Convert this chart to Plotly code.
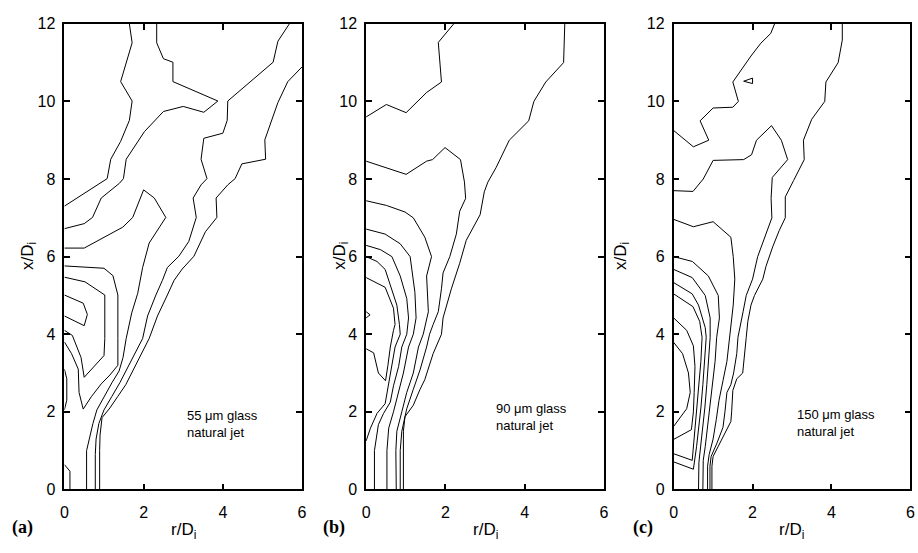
import plotly.graph_objects as go

# ---------------- data: contour polylines, (r/Di, x/Di) pairs ----------------
# panel (a) 55 um glass
a1 = [(0,7.30),(1.08,8.01),(1.17,8.51),(1.42,8.97),(1.64,9.51),(1.71,10.01),(1.42,10.51),(1.56,11.01),(1.71,11.51),(1.64,12.0)]
a2 = [(0,6.72),(0.5,6.85),(0.71,7.01),(0.93,7.51),(1.39,7.89),(1.49,8.01),(1.56,8.51),(2.02,9.22),(2.5,9.74),(3.0,9.87),(3.52,9.72),(3.875,10.01),(2.74,10.51),(2.74,11.01),(2.5,11.1),(2.33,11.51),(2.33,12.0)]
a3 = [(5.68,12.0),(5.39,11.55),(5.27,11.01),(4.98,10.76),(4.46,10.30),(4.125,10.01),(4.11,9.51),(4.0,9.18),(3.52,9.05),(3.45,8.51),(3.6,8.01),(3.45,7.85),(3.25,7.51),(3.33,7.01),(3.14,6.39),(2.89,6.01),(2.6,5.72),(2.475,5.39),(2.31,5.01),(2.1,4.47),(1.975,3.89),(1.75,3.45),(1.58,3.1),(1.4,2.75),(1.2,2.4),(1.0,2.05),(0.87,1.7),(0.8,1.3),(0.78,0.9),(0.78,0)]
a4 = [(0,6.22),(0.5,6.22),(1.475,6.76),(1.725,7.01),(2.0,7.72),(2.27,7.51),(2.56,7.01),(2.27,6.55),(2.14,6.35),(1.975,5.72),(1.85,5.05),(1.7,4.55),(1.56,3.89),(1.48,3.4),(1.38,3.05),(1.2,2.75),(1.0,2.4),(0.82,2.05),(0.72,1.7),(0.62,1.3),(0.56,1.0),(0.56,0)]
a5 = [(0,5.47),(0.52,5.35),(1.02,5.01),(1.02,3.89),(1.0,3.45),(0.5,2.89),(0.42,3.4),(0.2,3.97),(0,4.1)]
a6 = [(0,5.01),(0.475,4.8),(0.58,4.51),(0.5,4.22),(0,4.47)]
a7 = [(6.0,10.89),(5.64,10.51),(5.39,9.97),(5.06,9.01),(5.08,8.51),(4.48,8.39),(4.31,8.01),(4.125,7.85),(3.83,7.51),(3.85,7.01),(3.56,6.64),(3.27,6.01),(2.975,5.68),(2.77,5.39),(2.6,5.01),(2.35,4.47),(2.14,3.89),(1.95,3.5),(1.75,3.1),(1.55,2.7),(1.35,2.4),(1.15,2.1),(0.95,1.85),(0.9,1.4),(0.89,1.0),(0.89,0)]
a8 = [(0,5.76),(1.0,5.7),(1.225,5.51),(1.35,5.01),(1.35,3.89),(1.35,3.2),(1.15,2.95),(0.93,2.72),(0.68,2.39),(0.475,2.07),(0.37,2.5),(0.35,3.1),(0.18,3.5),(0,3.8)]
a9 = [(0,0.64),(0.14,0.47),(0.14,0)]
a10 = [(0,3.1),(0.06,2.85),(0.06,2.3),(0,2.05)]

# panel (b) 90 um glass
b1 = [(0,9.6),(0.51,9.92),(1.01,9.71),(1.525,10.23),(1.9,10.5),(1.82,11.52),(2.21,12.0)]
b2 = [(5.01,12.0),(4.98,11.0),(4.53,10.5),(4.23,10.0),(4.1,9.5),(3.9,9.29),(3.61,9.0),(3.275,8.29),(3.07,7.92),(2.98,7.67),(2.875,7.08),(2.525,6.42),(2.36,5.83),(2.15,5.17),(2.03,4.75),(1.94,4.42),(1.9,4.0),(1.69,3.5),(1.48,2.83),(1.36,2.58),(1.19,2.17),(0.98,1.875),(0.94,1.5),(0.94,0)]
b3 = [(0,8.46),(1.01,8.12),(1.525,8.46),(1.675,8.5),(1.99,8.81),(2.38,8.5),(2.48,7.92),(2.51,7.5),(2.36,7.17),(2.275,6.58),(2.11,6.0),(1.94,5.58),(1.9,5.17),(1.82,4.58),(1.69,4.25),(1.6,4.0),(1.525,3.67),(1.36,3.08),(1.19,2.58),(1.025,2.08),(0.9,1.5),(0.86,1.0),(0.86,0)]
b4 = [(0,7.44),(0.51,7.32),(0.98,7.15),(1.19,7.0),(1.48,6.5),(1.65,6.0),(1.525,5.5),(1.57,4.58),(1.44,4.0),(1.32,3.67),(1.19,3.0),(1.025,2.5),(0.9,2.0),(0.775,1.5),(0.75,1.0),(0.76,0)]
b5 = [(0,6.71),(0.48,6.58),(0.86,6.33),(1.11,6.0),(1.23,5.08),(1.26,4.42),(1.19,4.0),(1.07,3.67),(0.94,3.0),(0.82,2.5),(0.69,2.0),(0.57,1.58),(0.525,1.0),(0.525,0)]
b6 = [(0,6.29),(0.36,6.18),(0.65,6.0),(0.86,5.5),(1.025,4.92),(1.07,4.42),(1.025,4.0),(0.9,3.67),(0.82,3.17),(0.69,2.67),(0.61,2.25),(0.44,1.96),(0.31,1.67),(0.21,1.0),(0.21,0)]
b7 = [(0,6.0),(0.275,5.875),(0.48,5.67),(0.65,5.17),(0.775,4.75),(0.84,4.25),(0.86,4.0),(0.73,3.67),(0.65,3.17),(0.57,2.71),(0.48,2.21),(0.275,1.96),(0.11,1.58),(0,1.25)]
b8 = [(0,5.46),(0.48,5.21),(0.69,4.67),(0.73,4.25),(0.69,4.1),(0.61,3.67),(0.55,3.2),(0.49,2.8),(0.31,3.0),(0.19,3.52),(0,3.625)]
b9 = [(0,4.58),(0.1,4.5),(0,4.42)]

# panel (c) 150 um glass
c1 = [(0,9.25),(0.25,9.04),(0.5,8.83),(0.89,9.0),(0.67,9.5),(1.0,9.83),(1.5,9.85),(1.64,10.0),(1.5,10.5),(1.96,11.17),(2.21,11.5),(2.46,11.75),(2.56,12.0)]
c2 = [(4.275,12),(4.275,11.58),(4.17,11.0),(4.025,10.75),(3.86,10.5),(3.83,10.0),(3.5,9.54),(3.29,9.0),(3.31,8.5),(3.04,7.96),(2.83,7.54),(2.83,7.0),(2.675,6.67),(2.51,6.25),(2.34,5.75),(2.26,5.42),(2.05,5.0),(1.96,4.75),(1.88,4.33),(1.84,3.92),(1.8,3.5),(1.75,3.0),(1.6,2.85),(1.5,2.55),(1.47,2.0),(1.45,1.75),(1.2,1.25),(1.0,0.85),(0.97,0.6),(0.97,0)]
c3 = [(0,7.7),(0.49,7.68),(0.75,8.0),(1.0,8.48),(1.775,8.5),(1.975,8.625),(2.1,9.0),(2.48,9.375),(2.73,9.0),(2.89,8.5),(2.5,8.04),(2.47,7.5),(2.49,7.0),(2.3,6.5),(2.13,6.0),(2.0,5.42),(1.84,5.0),(1.76,4.58),(1.675,4.17),(1.63,3.92),(1.6,3.5),(1.52,3.0),(1.45,2.7),(1.35,2.5),(1.3,2.0),(1.25,1.6),(1.1,1.2),(0.95,0.85),(0.92,0.6),(0.92,0)]
c4 = [(0,6.96),(0.5,6.77),(1.0,6.9),(1.45,6.5),(1.51,6.0),(1.55,5.42),(1.51,4.75),(1.425,3.92),(1.35,3.3),(1.25,2.8),(1.15,2.3),(1.08,1.8),(1.0,1.3),(0.9,0.9),(0.86,0.6),(0.86,0)]
c5 = [(0,6.0),(0.475,5.875),(0.88,5.5),(1.13,5.0),(1.16,4.42),(1.09,3.92),(1.05,3.3),(0.98,2.7),(0.92,2.1),(0.87,1.6),(0.8,1.1),(0.75,0.75),(0.74,0)]
c6 = [(0,5.67),(0.47,5.46),(0.8,5.0),(0.925,4.42),(0.925,3.92),(0.89,3.3),(0.84,2.7),(0.79,2.1),(0.74,1.6),(0.69,1.1),(0.64,0.7),(0.63,0)]
c7 = [(0,5.33),(0.47,5.04),(0.63,4.75),(0.8,4.17),(0.825,3.92),(0.79,3.3),(0.74,2.7),(0.69,2.1),(0.64,1.6),(0.58,1.1),(0.5,0.52),(0,0.71)]
c8 = [(0,5.04),(0.49,4.71),(0.66,4.33),(0.72,3.92),(0.69,3.3),(0.64,2.7),(0.59,2.1),(0.55,1.6),(0.5,1.1),(0.47,0.75),(0,0.92)]
c9 = [(0,4.42),(0.33,4.1),(0.5,3.7),(0.54,3.17),(0.52,2.5),(0.5,2.0),(0.45,1.54),(0,1.29)]
c10 = [(0,3.79),(0.225,3.5),(0.375,3.0),(0.42,2.5),(0.33,2.08),(0,1.625)]
c11 = [(1.775,10.52),(2.0,10.6),(2.0,10.46),(1.775,10.52)]

panel_lines = [
    [a1, a2, a3, a4, a5, a6, a7, a8, a9, a10],
    [b1, b2, b3, b4, b5, b6, b7, b8, b9],
    [c1, c2, c3, c4, c5, c6, c7, c8, c9, c10, c11],
]
panel_notes = ["55 \u03bcm glass<br>natural jet", "90 \u03bcm glass<br>natural jet", "150 \u03bcm glass<br>natural jet"]
panel_tags = ["(a)", "(b)", "(c)"]
r_ticks = [0, 2, 4, 6]
x_ticks = [0, 2, 4, 6, 8, 10, 12]

# ---------------- layout geometry ----------------
W, H = 918, 553
x_dom = [(61, 301), (365.7, 606), (676.3, 915.3)]
y_top, y_bot = 16.3, 496.7
note_pos = [(3.04, 1.69), (3.23, 1.875), (3.085, 1.71)]
ytitle_px = [25, 340, 624]
tag_px = [19, 333, 645]

FONT = "Liberation Sans, Arial, Helvetica, sans-serif"
fig = go.Figure()
layout = dict(width=W, height=H, margin=dict(l=0, r=0, t=0, b=0),
              paper_bgcolor="white", plot_bgcolor="white", showlegend=False,
              font=dict(family=FONT, size=16, color="black"))
annotations = []
for i, lines in enumerate(panel_lines):
    sfx = "" if i == 0 else str(i + 1)
    for ln in lines:
        fig.add_trace(go.Scatter(x=[p[0] for p in ln], y=[p[1] for p in ln], mode="lines",
                                 line=dict(color="black", width=1), xaxis="x" + sfx, yaxis="y" + sfx,
                                 hoverinfo="skip", cliponaxis=True))
    x0, x1 = x_dom[i]
    axcommon = dict(showline=True, linecolor="black", linewidth=1.6, mirror="ticks",
                    ticks="inside", ticklen=6, tickwidth=1.6, tickcolor="black",
                    showgrid=False, zeroline=False, tickfont=dict(family=FONT, size=16))
    layout["xaxis" + sfx] = dict(axcommon, domain=[x0 / W, x1 / W], range=[0, 6],
                                 tickvals=r_ticks, anchor="y" + sfx, ticklabelstandoff=8)
    layout["yaxis" + sfx] = dict(axcommon, domain=[1 - y_bot / H, 1 - y_top / H], range=[0, 12],
                                 tickvals=x_ticks, anchor="x" + sfx, ticklabelstandoff=4)
    rx, yy = note_pos[i]
    annotations.append(dict(x=rx, y=yy, xref="x" + sfx, yref="y" + sfx, text=panel_notes[i],
                            showarrow=False, align="left", xanchor="left", yanchor="middle",
                            font=dict(family=FONT, size=13)))
    annotations.append(dict(x=(x0 + x1) / 2 / W, y=1 - 540 / H, xref="paper", yref="paper",
                            text="r/D<sub>i</sub>", showarrow=False, xanchor="center", yanchor="middle",
                            font=dict(family=FONT, size=17)))
    annotations.append(dict(x=ytitle_px[i] / W, y=1 - 256 / H, xref="paper", yref="paper",
                            text="x/D<sub>i</sub>", showarrow=False, textangle=-90,
                            xanchor="center", yanchor="middle", font=dict(family=FONT, size=17)))
    annotations.append(dict(x=tag_px[i] / W, y=1 - 536 / H, xref="paper", yref="paper",
                            text="<b>" + panel_tags[i] + "</b>", showarrow=False,
                            xanchor="center", yanchor="middle",
                            font=dict(family="Liberation Serif, Times New Roman, serif", size=18)))
layout["annotations"] = annotations
fig.update_layout(**layout)
fig.write_html("out.html")
